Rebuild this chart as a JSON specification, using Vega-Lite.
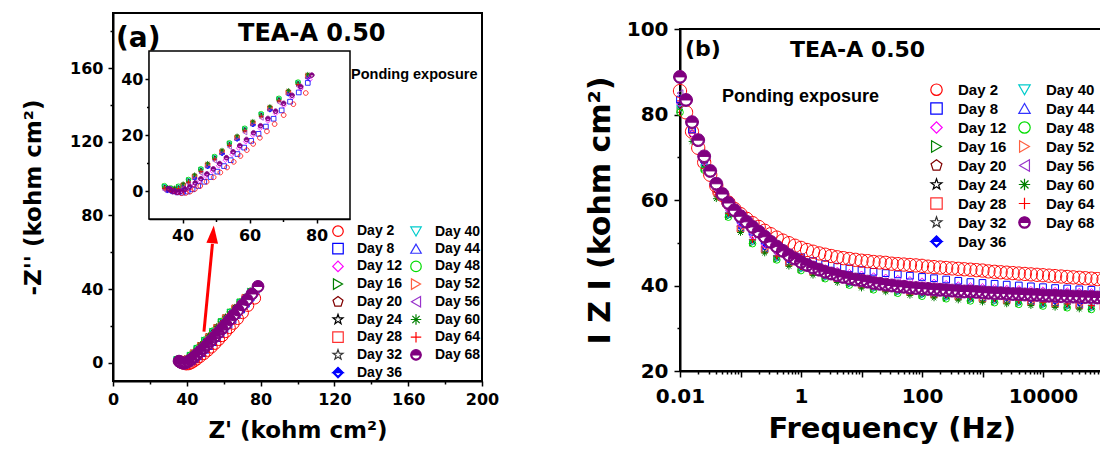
{
"$schema":"https://vega.github.io/schema/vega-lite/v6.json",
"width":1100,"height":449,"autosize":{"type":"none"},"padding":0,"background":"white",
"config":{
 "view":{"stroke":null},
 "axis":{"domainColor":"black","domainWidth":2,"tickColor":"black","tickWidth":1.5,"labelFont":"DejaVu Sans","labelFontWeight":"bold","labelColor":"black","titleFont":"DejaVu Sans","titleFontWeight":"bold","titleColor":"black","grid":false,"labelOverlap":false,"labelFlush":false},
 "legend":{"labelFont":"Liberation Sans","labelFontWeight":"bold","labelColor":"black","symbolStrokeWidth":1.2},
 "text":{"font":"DejaVu Sans","fontWeight":"bold","color":"black"}
},
"datasets":{
"one":[{"k":1}],
"bode":[
{"d":16,"f":0.01,"z":81.1},{"d":16,"f":0.0251,"z":67.4},{"d":16,"f":0.0631,"z":56.2},{"d":16,"f":0.158,"z":50.0},{"d":16,"f":0.398,"z":46.2},{"d":16,"f":1,"z":43.7},{"d":16,"f":2.51,"z":41.8},{"d":16,"f":6.31,"z":40.3},{"d":16,"f":15.8,"z":39.2},{"d":16,"f":39.8,"z":38.4},{"d":16,"f":100,"z":37.7},{"d":16,"f":251,"z":37.1},{"d":16,"f":631,"z":36.6},{"d":16,"f":1585,"z":36.2},{"d":16,"f":3981,"z":35.8},{"d":16,"f":10000,"z":35.4},{"d":16,"f":25119,"z":35.0},{"d":16,"f":63096,"z":34.6},
{"d":20,"f":0.0158,"z":75.5},{"d":20,"f":0.0398,"z":61.5},{"d":20,"f":0.1,"z":53.0},{"d":20,"f":0.251,"z":48.2},{"d":20,"f":0.631,"z":45.1},{"d":20,"f":1.58,"z":43.0},{"d":20,"f":3.98,"z":41.3},{"d":20,"f":10,"z":40.0},{"d":20,"f":25.1,"z":39.1},{"d":20,"f":63.1,"z":38.3},{"d":20,"f":158,"z":37.7},{"d":20,"f":398,"z":37.2},{"d":20,"f":1000,"z":36.7},{"d":20,"f":2512,"z":36.3},{"d":20,"f":6310,"z":35.9},{"d":20,"f":15849,"z":35.5},{"d":20,"f":39811,"z":35.1},{"d":20,"f":100000,"z":34.7},
{"d":24,"f":0.01,"z":82.6},{"d":24,"f":0.0251,"z":68.4},{"d":24,"f":0.0631,"z":56.7},{"d":24,"f":0.158,"z":50.5},{"d":24,"f":0.398,"z":46.7},{"d":24,"f":1,"z":44.2},{"d":24,"f":2.51,"z":42.3},{"d":24,"f":6.31,"z":40.8},{"d":24,"f":15.8,"z":39.7},{"d":24,"f":39.8,"z":38.9},{"d":24,"f":100,"z":38.2},{"d":24,"f":251,"z":37.6},{"d":24,"f":631,"z":37.1},{"d":24,"f":1585,"z":36.7},{"d":24,"f":3981,"z":36.3},{"d":24,"f":10000,"z":35.9},{"d":24,"f":25119,"z":35.5},{"d":24,"f":63096,"z":35.1},
{"d":28,"f":0.0158,"z":76.4},{"d":28,"f":0.0398,"z":62.1},{"d":28,"f":0.1,"z":53.3},{"d":28,"f":0.251,"z":48.5},{"d":28,"f":0.631,"z":45.4},{"d":28,"f":1.58,"z":43.3},{"d":28,"f":3.98,"z":41.6},{"d":28,"f":10,"z":40.3},{"d":28,"f":25.1,"z":39.4},{"d":28,"f":63.1,"z":38.6},{"d":28,"f":158,"z":38.0},{"d":28,"f":398,"z":37.5},{"d":28,"f":1000,"z":37.0},{"d":28,"f":2512,"z":36.6},{"d":28,"f":6310,"z":36.2},{"d":28,"f":15849,"z":35.8},{"d":28,"f":39811,"z":35.4},{"d":28,"f":100000,"z":35.0},
{"d":32,"f":0.01,"z":82.0},{"d":32,"f":0.0251,"z":68.0},{"d":32,"f":0.0631,"z":56.5},{"d":32,"f":0.158,"z":50.3},{"d":32,"f":0.398,"z":46.5},{"d":32,"f":1,"z":44.0},{"d":32,"f":2.51,"z":42.1},{"d":32,"f":6.31,"z":40.6},{"d":32,"f":15.8,"z":39.5},{"d":32,"f":39.8,"z":38.7},{"d":32,"f":100,"z":38.0},{"d":32,"f":251,"z":37.4},{"d":32,"f":631,"z":36.9},{"d":32,"f":1585,"z":36.5},{"d":32,"f":3981,"z":36.1},{"d":32,"f":10000,"z":35.7},{"d":32,"f":25119,"z":35.3},{"d":32,"f":63096,"z":34.9},
{"d":36,"f":0.0158,"z":77.9},{"d":36,"f":0.0398,"z":63.1},{"d":36,"f":0.1,"z":53.8},{"d":36,"f":0.251,"z":49.0},{"d":36,"f":0.631,"z":45.9},{"d":36,"f":1.58,"z":43.8},{"d":36,"f":3.98,"z":42.1},{"d":36,"f":10,"z":40.8},{"d":36,"f":25.1,"z":39.9},{"d":36,"f":63.1,"z":39.1},{"d":36,"f":158,"z":38.5},{"d":36,"f":398,"z":38.0},{"d":36,"f":1000,"z":37.5},{"d":36,"f":2512,"z":37.1},{"d":36,"f":6310,"z":36.7},{"d":36,"f":15849,"z":36.3},{"d":36,"f":39811,"z":35.9},{"d":36,"f":100000,"z":35.5},
{"d":40,"f":0.01,"z":81.4},{"d":40,"f":0.0251,"z":67.6},{"d":40,"f":0.0631,"z":56.3},{"d":40,"f":0.158,"z":50.1},{"d":40,"f":0.398,"z":46.3},{"d":40,"f":1,"z":43.8},{"d":40,"f":2.51,"z":41.9},{"d":40,"f":6.31,"z":40.4},{"d":40,"f":15.8,"z":39.3},{"d":40,"f":39.8,"z":38.5},{"d":40,"f":100,"z":37.8},{"d":40,"f":251,"z":37.2},{"d":40,"f":631,"z":36.7},{"d":40,"f":1585,"z":36.3},{"d":40,"f":3981,"z":35.9},{"d":40,"f":10000,"z":35.5},{"d":40,"f":25119,"z":35.1},{"d":40,"f":63096,"z":34.7},
{"d":44,"f":0.0158,"z":77.0},{"d":44,"f":0.0398,"z":62.5},{"d":44,"f":0.1,"z":53.5},{"d":44,"f":0.251,"z":48.7},{"d":44,"f":0.631,"z":45.6},{"d":44,"f":1.58,"z":43.5},{"d":44,"f":3.98,"z":41.8},{"d":44,"f":10,"z":40.5},{"d":44,"f":25.1,"z":39.6},{"d":44,"f":63.1,"z":38.8},{"d":44,"f":158,"z":38.2},{"d":44,"f":398,"z":37.7},{"d":44,"f":1000,"z":37.2},{"d":44,"f":2512,"z":36.8},{"d":44,"f":6310,"z":36.4},{"d":44,"f":15849,"z":36.0},{"d":44,"f":39811,"z":35.6},{"d":44,"f":100000,"z":35.2},
{"d":48,"f":0.01,"z":80.5},{"d":48,"f":0.0251,"z":67.0},{"d":48,"f":0.0631,"z":56.0},{"d":48,"f":0.158,"z":49.8},{"d":48,"f":0.398,"z":46.0},{"d":48,"f":1,"z":43.5},{"d":48,"f":2.51,"z":41.6},{"d":48,"f":6.31,"z":40.1},{"d":48,"f":15.8,"z":39.0},{"d":48,"f":39.8,"z":38.2},{"d":48,"f":100,"z":37.5},{"d":48,"f":251,"z":36.9},{"d":48,"f":631,"z":36.4},{"d":48,"f":1585,"z":36.0},{"d":48,"f":3981,"z":35.6},{"d":48,"f":10000,"z":35.2},{"d":48,"f":25119,"z":34.8},{"d":48,"f":63096,"z":34.4},
{"d":52,"f":0.0158,"z":76.1},{"d":52,"f":0.0398,"z":61.9},{"d":52,"f":0.1,"z":53.2},{"d":52,"f":0.251,"z":48.4},{"d":52,"f":0.631,"z":45.3},{"d":52,"f":1.58,"z":43.2},{"d":52,"f":3.98,"z":41.5},{"d":52,"f":10,"z":40.2},{"d":52,"f":25.1,"z":39.3},{"d":52,"f":63.1,"z":38.5},{"d":52,"f":158,"z":37.9},{"d":52,"f":398,"z":37.4},{"d":52,"f":1000,"z":36.9},{"d":52,"f":2512,"z":36.5},{"d":52,"f":6310,"z":36.1},{"d":52,"f":15849,"z":35.7},{"d":52,"f":39811,"z":35.3},{"d":52,"f":100000,"z":34.9},
{"d":56,"f":0.01,"z":85.0},{"d":56,"f":0.0251,"z":70.0},{"d":56,"f":0.0631,"z":57.5},{"d":56,"f":0.158,"z":51.3},{"d":56,"f":0.398,"z":47.5},{"d":56,"f":1,"z":45.0},{"d":56,"f":2.51,"z":43.1},{"d":56,"f":6.31,"z":41.6},{"d":56,"f":15.8,"z":40.5},{"d":56,"f":39.8,"z":39.7},{"d":56,"f":100,"z":39.0},{"d":56,"f":251,"z":38.4},{"d":56,"f":631,"z":37.9},{"d":56,"f":1585,"z":37.5},{"d":56,"f":3981,"z":37.1},{"d":56,"f":10000,"z":36.7},{"d":56,"f":25119,"z":36.3},{"d":56,"f":63096,"z":35.9},
{"d":60,"f":0.0158,"z":73.7},{"d":60,"f":0.0398,"z":60.3},{"d":60,"f":0.1,"z":52.4},{"d":60,"f":0.251,"z":47.6},{"d":60,"f":0.631,"z":44.5},{"d":60,"f":1.58,"z":42.4},{"d":60,"f":3.98,"z":40.7},{"d":60,"f":10,"z":39.4},{"d":60,"f":25.1,"z":38.5},{"d":60,"f":63.1,"z":37.7},{"d":60,"f":158,"z":37.1},{"d":60,"f":398,"z":36.6},{"d":60,"f":1000,"z":36.1},{"d":60,"f":2512,"z":35.7},{"d":60,"f":6310,"z":35.3},{"d":60,"f":15849,"z":34.9},{"d":60,"f":39811,"z":34.5},{"d":60,"f":100000,"z":34.1},
{"d":64,"f":0.01,"z":83.2},{"d":64,"f":0.0251,"z":68.8},{"d":64,"f":0.0631,"z":56.9},{"d":64,"f":0.158,"z":50.7},{"d":64,"f":0.398,"z":46.9},{"d":64,"f":1,"z":44.4},{"d":64,"f":2.51,"z":42.5},{"d":64,"f":6.31,"z":41.0},{"d":64,"f":15.8,"z":39.9},{"d":64,"f":39.8,"z":39.1},{"d":64,"f":100,"z":38.4},{"d":64,"f":251,"z":37.8},{"d":64,"f":631,"z":37.3},{"d":64,"f":1585,"z":36.9},{"d":64,"f":3981,"z":36.5},{"d":64,"f":10000,"z":36.1},{"d":64,"f":25119,"z":35.7},{"d":64,"f":63096,"z":35.3},
{"d":12,"f":0.01,"z":82.5},{"d":12,"f":0.0158,"z":75.5},{"d":12,"f":0.0251,"z":68.8},{"d":12,"f":0.0398,"z":62.8},{"d":12,"f":0.0631,"z":58.0},{"d":12,"f":0.1,"z":54.5},{"d":12,"f":0.158,"z":51.7},{"d":12,"f":0.251,"z":49.6},{"d":12,"f":0.398,"z":48.0},{"d":12,"f":0.631,"z":46.7},{"d":12,"f":1,"z":45.7},{"d":12,"f":1.58,"z":44.8},{"d":12,"f":2.51,"z":44.1},{"d":12,"f":3.98,"z":43.5},{"d":12,"f":6.31,"z":43.0},{"d":12,"f":10,"z":42.6},{"d":12,"f":15.8,"z":42.2},{"d":12,"f":25.1,"z":41.9},{"d":12,"f":39.8,"z":41.6},{"d":12,"f":63.1,"z":41.3},{"d":12,"f":100,"z":41.0},{"d":12,"f":158,"z":40.7},{"d":12,"f":251,"z":40.4},{"d":12,"f":398,"z":40.1},{"d":12,"f":631,"z":39.9},{"d":12,"f":1000,"z":39.7},{"d":12,"f":1585,"z":39.5},{"d":12,"f":2512,"z":39.3},{"d":12,"f":3981,"z":39.2},{"d":12,"f":6310,"z":39.0},{"d":12,"f":10000,"z":38.9},{"d":12,"f":15849,"z":38.8},{"d":12,"f":25119,"z":38.7},{"d":12,"f":39811,"z":38.6},{"d":12,"f":63096,"z":38.5},{"d":12,"f":100000,"z":38.4},
{"d":8,"f":0.01,"z":83.5},{"d":8,"f":0.0158,"z":76.5},{"d":8,"f":0.0251,"z":69.5},{"d":8,"f":0.0398,"z":63.5},{"d":8,"f":0.0631,"z":58.8},{"d":8,"f":0.1,"z":55.4},{"d":8,"f":0.158,"z":52.6},{"d":8,"f":0.251,"z":50.5},{"d":8,"f":0.398,"z":48.9},{"d":8,"f":0.631,"z":47.6},{"d":8,"f":1,"z":46.6},{"d":8,"f":1.58,"z":45.7},{"d":8,"f":2.51,"z":45.0},{"d":8,"f":3.98,"z":44.4},{"d":8,"f":6.31,"z":44.0},{"d":8,"f":10,"z":43.6},{"d":8,"f":15.8,"z":43.2},{"d":8,"f":25.1,"z":42.9},{"d":8,"f":39.8,"z":42.6},{"d":8,"f":63.1,"z":42.3},{"d":8,"f":100,"z":42.0},{"d":8,"f":158,"z":41.7},{"d":8,"f":251,"z":41.4},{"d":8,"f":398,"z":41.1},{"d":8,"f":631,"z":40.8},{"d":8,"f":1000,"z":40.6},{"d":8,"f":1585,"z":40.4},{"d":8,"f":2512,"z":40.2},{"d":8,"f":3981,"z":40.0},{"d":8,"f":6310,"z":39.8},{"d":8,"f":10000,"z":39.6},{"d":8,"f":15849,"z":39.4},{"d":8,"f":25119,"z":39.3},{"d":8,"f":39811,"z":39.1},{"d":8,"f":63096,"z":39.0},{"d":8,"f":100000,"z":38.9},
{"d":2,"f":0.01,"z":85.5},{"d":2,"f":0.0126,"z":80.5},{"d":2,"f":0.0158,"z":76.0},{"d":2,"f":0.02,"z":72.2},{"d":2,"f":0.0251,"z":68.8},{"d":2,"f":0.0316,"z":65.9},{"d":2,"f":0.0398,"z":63.3},{"d":2,"f":0.0501,"z":61.2},{"d":2,"f":0.0631,"z":59.4},{"d":2,"f":0.0794,"z":57.9},
{"d":2,"f":0.1,"z":56.7},{"d":2,"f":0.126,"z":55.6},{"d":2,"f":0.158,"z":54.6},{"d":2,"f":0.2,"z":53.7},{"d":2,"f":0.251,"z":52.8},{"d":2,"f":0.316,"z":52.0},{"d":2,"f":0.398,"z":51.2},{"d":2,"f":0.501,"z":50.5},{"d":2,"f":0.631,"z":49.9},{"d":2,"f":0.794,"z":49.3},
{"d":2,"f":1,"z":48.8},{"d":2,"f":1.26,"z":48.3},{"d":2,"f":1.58,"z":47.9},{"d":2,"f":2,"z":47.5},{"d":2,"f":2.51,"z":47.2},{"d":2,"f":3.16,"z":46.9},{"d":2,"f":3.98,"z":46.6},{"d":2,"f":5.01,"z":46.4},{"d":2,"f":6.31,"z":46.2},{"d":2,"f":7.94,"z":46.0},
{"d":2,"f":10,"z":45.8},{"d":2,"f":12.6,"z":45.7},{"d":2,"f":15.8,"z":45.5},{"d":2,"f":20,"z":45.4},{"d":2,"f":25.1,"z":45.3},{"d":2,"f":31.6,"z":45.1},{"d":2,"f":39.8,"z":45.0},{"d":2,"f":50.1,"z":44.9},{"d":2,"f":63.1,"z":44.8},{"d":2,"f":79.4,"z":44.7},
{"d":2,"f":100,"z":44.6},{"d":2,"f":126,"z":44.4},{"d":2,"f":158,"z":44.3},{"d":2,"f":200,"z":44.2},{"d":2,"f":251,"z":44.1},{"d":2,"f":316,"z":44.0},{"d":2,"f":398,"z":43.9},{"d":2,"f":501,"z":43.8},{"d":2,"f":631,"z":43.7},{"d":2,"f":794,"z":43.6},
{"d":2,"f":1000,"z":43.5},{"d":2,"f":1259,"z":43.3},{"d":2,"f":1585,"z":43.2},{"d":2,"f":1995,"z":43.1},{"d":2,"f":2512,"z":43.0},{"d":2,"f":3162,"z":42.9},{"d":2,"f":3981,"z":42.8},{"d":2,"f":5012,"z":42.7},{"d":2,"f":6310,"z":42.6},{"d":2,"f":7943,"z":42.5},
{"d":2,"f":10000,"z":42.4},{"d":2,"f":12589,"z":42.3},{"d":2,"f":15849,"z":42.2},{"d":2,"f":19953,"z":42.1},{"d":2,"f":25119,"z":42.0},{"d":2,"f":31623,"z":41.9},{"d":2,"f":39811,"z":41.8},{"d":2,"f":50119,"z":41.7},{"d":2,"f":63096,"z":41.6},{"d":2,"f":79433,"z":41.5},{"d":2,"f":100000,"z":41.4},
{"d":68,"f":0.01,"z":88.8},{"d":68,"f":0.0126,"z":83.4},{"d":68,"f":0.0158,"z":78.2},{"d":68,"f":0.02,"z":74.0},{"d":68,"f":0.0251,"z":70.2},{"d":68,"f":0.0316,"z":66.8},{"d":68,"f":0.0398,"z":63.8},{"d":68,"f":0.0501,"z":61.4},{"d":68,"f":0.0631,"z":59.3},{"d":68,"f":0.0794,"z":57.6},
{"d":68,"f":0.1,"z":56.2},{"d":68,"f":0.126,"z":54.9},{"d":68,"f":0.158,"z":53.7},{"d":68,"f":0.2,"z":52.6},{"d":68,"f":0.251,"z":51.4},{"d":68,"f":0.316,"z":50.2},{"d":68,"f":0.398,"z":49.1},{"d":68,"f":0.501,"z":48.1},{"d":68,"f":0.631,"z":47.1},{"d":68,"f":0.794,"z":46.3},
{"d":68,"f":1,"z":45.5},{"d":68,"f":1.26,"z":44.8},{"d":68,"f":1.58,"z":44.2},{"d":68,"f":2,"z":43.7},{"d":68,"f":2.51,"z":43.2},{"d":68,"f":3.16,"z":42.8},{"d":68,"f":3.98,"z":42.4},{"d":68,"f":5.01,"z":42.0},{"d":68,"f":6.31,"z":41.7},{"d":68,"f":7.94,"z":41.4},
{"d":68,"f":10,"z":41.2},{"d":68,"f":12.6,"z":40.9},{"d":68,"f":15.8,"z":40.6},{"d":68,"f":20,"z":40.4},{"d":68,"f":25.1,"z":40.2},{"d":68,"f":31.6,"z":40.0},{"d":68,"f":39.8,"z":39.8},{"d":68,"f":50.1,"z":39.7},{"d":68,"f":63.1,"z":39.5},{"d":68,"f":79.4,"z":39.4},
{"d":68,"f":100,"z":39.3},{"d":68,"f":126,"z":39.2},{"d":68,"f":158,"z":39.1},{"d":68,"f":200,"z":39.0},{"d":68,"f":251,"z":38.9},{"d":68,"f":316,"z":38.8},{"d":68,"f":398,"z":38.7},{"d":68,"f":501,"z":38.6},{"d":68,"f":631,"z":38.6},{"d":68,"f":794,"z":38.5},
{"d":68,"f":1000,"z":38.4},{"d":68,"f":1259,"z":38.3},{"d":68,"f":1585,"z":38.2},{"d":68,"f":1995,"z":38.2},{"d":68,"f":2512,"z":38.1},{"d":68,"f":3162,"z":38.0},{"d":68,"f":3981,"z":38.0},{"d":68,"f":5012,"z":37.9},{"d":68,"f":6310,"z":37.8},{"d":68,"f":7943,"z":37.8},
{"d":68,"f":10000,"z":37.7},{"d":68,"f":12589,"z":37.6},{"d":68,"f":15849,"z":37.6},{"d":68,"f":19953,"z":37.5},{"d":68,"f":25119,"z":37.5},{"d":68,"f":31623,"z":37.4},{"d":68,"f":39811,"z":37.4},{"d":68,"f":50119,"z":37.3},{"d":68,"f":63096,"z":37.3},{"d":68,"f":79433,"z":37.2},{"d":68,"f":100000,"z":37.2}
],
"nyq":[
{"d":16,"x":34.6,"y":1.7},{"d":16,"x":36.5,"y":0.9},{"d":16,"x":38.8,"y":1.5},{"d":16,"x":41.8,"y":3.9},{"d":16,"x":45.5,"y":7.7},{"d":16,"x":49.6,"y":12.1},{"d":16,"x":54.0,"y":17.0},{"d":16,"x":58.6,"y":22.2},{"d":16,"x":63.5,"y":27.4},{"d":16,"x":68.8,"y":32.9},{"d":16,"x":74.5,"y":38.7},
{"d":20,"x":35.5,"y":0.9},{"d":20,"x":37.6,"y":0.7},{"d":20,"x":40.2,"y":2.2},{"d":20,"x":43.6,"y":5.4},{"d":20,"x":47.5,"y":9.5},{"d":20,"x":51.8,"y":14.2},{"d":20,"x":56.3,"y":19.3},{"d":20,"x":61.0,"y":24.5},{"d":20,"x":66.1,"y":29.8},{"d":20,"x":71.6,"y":35.5},{"d":20,"x":77.4,"y":41.3},
{"d":24,"x":34.6,"y":1.4},{"d":24,"x":36.5,"y":0.6},{"d":24,"x":38.8,"y":1.2},{"d":24,"x":41.8,"y":3.6},{"d":24,"x":45.5,"y":7.4},{"d":24,"x":49.6,"y":11.8},{"d":24,"x":54.0,"y":16.7},{"d":24,"x":58.6,"y":21.9},{"d":24,"x":63.5,"y":27.1},{"d":24,"x":68.8,"y":32.6},{"d":24,"x":74.5,"y":38.4},
{"d":28,"x":35.5,"y":0.6},{"d":28,"x":37.6,"y":0.4},{"d":28,"x":40.2,"y":1.9},{"d":28,"x":43.6,"y":5.1},{"d":28,"x":47.5,"y":9.2},{"d":28,"x":51.8,"y":13.9},{"d":28,"x":56.3,"y":19.0},{"d":28,"x":61.0,"y":24.2},{"d":28,"x":66.1,"y":29.5},{"d":28,"x":71.6,"y":35.2},{"d":28,"x":77.4,"y":41.0},
{"d":32,"x":34.6,"y":1.2},{"d":32,"x":36.5,"y":0.4},{"d":32,"x":38.8,"y":1.0},{"d":32,"x":41.8,"y":3.4},{"d":32,"x":45.5,"y":7.2},{"d":32,"x":49.6,"y":11.6},{"d":32,"x":54.0,"y":16.5},{"d":32,"x":58.6,"y":21.7},{"d":32,"x":63.5,"y":26.9},{"d":32,"x":68.8,"y":32.4},{"d":32,"x":74.5,"y":38.2},
{"d":36,"x":35.5,"y":0.1},{"d":36,"x":37.6,"y":-0.1},{"d":36,"x":40.2,"y":1.4},{"d":36,"x":43.6,"y":4.6},{"d":36,"x":47.5,"y":8.7},{"d":36,"x":51.8,"y":13.4},{"d":36,"x":56.3,"y":18.5},{"d":36,"x":61.0,"y":23.7},{"d":36,"x":66.1,"y":29.0},{"d":36,"x":71.6,"y":34.7},{"d":36,"x":77.4,"y":40.5},
{"d":40,"x":34.6,"y":1.6},{"d":40,"x":36.5,"y":0.8},{"d":40,"x":38.8,"y":1.4},{"d":40,"x":41.8,"y":3.8},{"d":40,"x":45.5,"y":7.6},{"d":40,"x":49.6,"y":12.0},{"d":40,"x":54.0,"y":16.9},{"d":40,"x":58.6,"y":22.1},{"d":40,"x":63.5,"y":27.3},{"d":40,"x":68.8,"y":32.8},{"d":40,"x":74.5,"y":38.6},
{"d":44,"x":35.5,"y":0.4},{"d":44,"x":37.6,"y":0.2},{"d":44,"x":40.2,"y":1.7},{"d":44,"x":43.6,"y":4.9},{"d":44,"x":47.5,"y":9.0},{"d":44,"x":51.8,"y":13.7},{"d":44,"x":56.3,"y":18.8},{"d":44,"x":61.0,"y":24.0},{"d":44,"x":66.1,"y":29.3},{"d":44,"x":71.6,"y":35.0},{"d":44,"x":77.4,"y":40.8},
{"d":48,"x":34.6,"y":1.9},{"d":48,"x":36.5,"y":1.1},{"d":48,"x":38.8,"y":1.7},{"d":48,"x":41.8,"y":4.1},{"d":48,"x":45.5,"y":7.9},{"d":48,"x":49.6,"y":12.3},{"d":48,"x":54.0,"y":17.2},{"d":48,"x":58.6,"y":22.4},{"d":48,"x":63.5,"y":27.6},{"d":48,"x":68.8,"y":33.1},{"d":48,"x":74.5,"y":38.9},
{"d":52,"x":35.5,"y":0.7},{"d":52,"x":37.6,"y":0.5},{"d":52,"x":40.2,"y":2.0},{"d":52,"x":43.6,"y":5.2},{"d":52,"x":47.5,"y":9.3},{"d":52,"x":51.8,"y":14.0},{"d":52,"x":56.3,"y":19.1},{"d":52,"x":61.0,"y":24.3},{"d":52,"x":66.1,"y":29.6},{"d":52,"x":71.6,"y":35.3},{"d":52,"x":77.4,"y":41.1},
{"d":56,"x":34.6,"y":0.4},{"d":56,"x":36.5,"y":-0.4},{"d":56,"x":38.8,"y":0.2},{"d":56,"x":41.8,"y":2.6},{"d":56,"x":45.5,"y":6.4},{"d":56,"x":49.6,"y":10.8},{"d":56,"x":54.0,"y":15.7},{"d":56,"x":58.6,"y":20.9},{"d":56,"x":63.5,"y":26.1},{"d":56,"x":68.8,"y":31.6},{"d":56,"x":74.5,"y":37.4},
{"d":60,"x":35.5,"y":1.3},{"d":60,"x":37.6,"y":1.1},{"d":60,"x":40.2,"y":2.6},{"d":60,"x":43.6,"y":5.8},{"d":60,"x":47.5,"y":9.9},{"d":60,"x":51.8,"y":14.6},{"d":60,"x":56.3,"y":19.7},{"d":60,"x":61.0,"y":24.9},{"d":60,"x":66.1,"y":30.2},{"d":60,"x":71.6,"y":35.9},{"d":60,"x":77.4,"y":41.7},
{"d":64,"x":34.6,"y":1.0},{"d":64,"x":36.5,"y":0.2},{"d":64,"x":38.8,"y":0.8},{"d":64,"x":41.8,"y":3.2},{"d":64,"x":45.5,"y":7.0},{"d":64,"x":49.6,"y":11.4},{"d":64,"x":54.0,"y":16.3},{"d":64,"x":58.6,"y":21.5},{"d":64,"x":63.5,"y":26.7},{"d":64,"x":68.8,"y":32.2},{"d":64,"x":74.5,"y":38.0},
{"d":12,"x":35.9,"y":0.8},{"d":12,"x":36.9,"y":0.1},{"d":12,"x":38.0,"y":-0.4},{"d":12,"x":39.2,"y":-0.5},{"d":12,"x":40.5,"y":0.0},{"d":12,"x":41.9,"y":0.9},{"d":12,"x":43.5,"y":2.1},{"d":12,"x":45.2,"y":3.6},{"d":12,"x":47.0,"y":5.3},{"d":12,"x":48.9,"y":7.1},{"d":12,"x":50.8,"y":9.0},{"d":12,"x":52.8,"y":11.0},{"d":12,"x":54.8,"y":13.1},{"d":12,"x":56.8,"y":15.3},{"d":12,"x":58.9,"y":17.6},{"d":12,"x":61.0,"y":19.9},{"d":12,"x":63.2,"y":22.4},{"d":12,"x":65.5,"y":25.0},{"d":12,"x":67.8,"y":27.7},{"d":12,"x":70.2,"y":30.5},{"d":12,"x":72.7,"y":33.4},{"d":12,"x":75.3,"y":36.5},{"d":12,"x":78.0,"y":39.8},
{"d":8,"x":36.0,"y":0.7},{"d":8,"x":37.2,"y":0.0},{"d":8,"x":38.5,"y":-0.5},{"d":8,"x":40.0,"y":-0.6},{"d":8,"x":41.5,"y":-0.2},{"d":8,"x":43.0,"y":0.6},{"d":8,"x":44.7,"y":1.8},{"d":8,"x":46.5,"y":3.3},{"d":8,"x":48.4,"y":5.0},{"d":8,"x":50.4,"y":6.9},{"d":8,"x":52.4,"y":8.9},{"d":8,"x":54.4,"y":11.0},{"d":8,"x":56.4,"y":13.2},{"d":8,"x":58.4,"y":15.5},{"d":8,"x":60.5,"y":17.9},{"d":8,"x":62.7,"y":20.4},{"d":8,"x":64.9,"y":23.0},{"d":8,"x":67.2,"y":25.8},{"d":8,"x":69.6,"y":28.8},{"d":8,"x":72.1,"y":31.9},{"d":8,"x":74.7,"y":35.2},{"d":8,"x":77.4,"y":38.6},
{"d":2,"x":36.2,"y":0.6},{"d":2,"x":37.2,"y":0.0},{"d":2,"x":38.4,"y":-0.5},{"d":2,"x":39.7,"y":-0.8},{"d":2,"x":41.0,"y":-0.7},{"d":2,"x":42.3,"y":-0.2},{"d":2,"x":43.7,"y":0.7},{"d":2,"x":45.3,"y":1.8},{"d":2,"x":47.2,"y":3.3},{"d":2,"x":49.3,"y":4.9},{"d":2,"x":51.3,"y":6.6},{"d":2,"x":53.3,"y":8.4},{"d":2,"x":55.3,"y":10.4},{"d":2,"x":57.3,"y":12.5},{"d":2,"x":59.2,"y":14.6},{"d":2,"x":61.1,"y":16.8},{"d":2,"x":63.1,"y":19.0},{"d":2,"x":65.2,"y":21.3},{"d":2,"x":67.5,"y":23.9},{"d":2,"x":70.2,"y":27.1},{"d":2,"x":73.1,"y":31.0},{"d":2,"x":76.8,"y":35.0},
{"d":68,"x":35.8,"y":0.8},{"d":68,"x":36.6,"y":0.2},{"d":68,"x":37.5,"y":-0.2},{"d":68,"x":38.5,"y":-0.4},{"d":68,"x":39.6,"y":-0.1},{"d":68,"x":40.8,"y":0.6},{"d":68,"x":42.2,"y":1.6},{"d":68,"x":43.8,"y":2.9},{"d":68,"x":45.5,"y":4.4},{"d":68,"x":47.3,"y":6.1},{"d":68,"x":49.2,"y":7.9},{"d":68,"x":51.1,"y":9.8},{"d":68,"x":53.1,"y":11.9},{"d":68,"x":55.1,"y":14.0},{"d":68,"x":57.1,"y":16.2},{"d":68,"x":59.1,"y":18.4},{"d":68,"x":61.2,"y":20.8},{"d":68,"x":63.3,"y":23.3},{"d":68,"x":65.5,"y":25.9},{"d":68,"x":67.8,"y":28.5},{"d":68,"x":70.2,"y":31.3},{"d":68,"x":72.7,"y":34.2},{"d":68,"x":75.3,"y":37.3},{"d":68,"x":78.6,"y":41.4}
]
},
"layer":[
{
 "layer":[
  {"data":{"name":"one"},"mark":{"type":"rect","fill":"transparent","stroke":"black","strokeWidth":2},"encoding":{"x":{"datum":0,"type":"quantitative"},"x2":{"datum":200},"y":{"datum":-10,"type":"quantitative"},"y2":{"datum":190}}},
  {"data":{"name":"nyq"},
   "encoding":{
    "x":{"field":"x","type":"quantitative","scale":{"domain":[0,200],"range":[113,482],"nice":false,"zero":false},
     "axis":{"orient":"bottom","offset":-68,"values":[0,20,40,60,80,100,120,140,160,180,200],"labelExpr":"datum.value % 40 == 0 ? datum.label : ''","tickSize":{"condition":{"test":"datum.value % 40 == 0","value":5},"value":3},"labelFontSize":16,"labelPadding":5,"title":"Z' (kohm cm²)","titleFontSize":23,"titlePadding":12}},
    "y":{"field":"y","type":"quantitative","scale":{"domain":[-10,190],"range":[381,13],"nice":false,"zero":false},
     "axis":{"orient":"left","offset":-113,"values":[0,20,40,60,80,100,120,140,160,180],"labelExpr":"datum.value % 40 == 0 ? datum.label : ''","tickSize":{"condition":{"test":"datum.value % 40 == 0","value":5},"value":3},"labelFontSize":16,"labelPadding":5,"title":"-Z'' (kohm cm²)","titleFontSize":23,"titlePadding":24}},
    "shape":{"field":"d","type":"nominal","scale":{"domain":[2,8,12,16,20,24,28,32,36,40,44,48,52,56,60,64,68],"range":["M-1,0A1,1,0,1,1,1,0A1,1,0,1,1,-1,0Z","square","diamond","triangle-right","M0,-1L0.951,-0.309L0.588,0.809L-0.588,0.809L-0.951,-0.309Z","M0,-1L0.235,-0.324L0.951,-0.309L0.38,0.124L0.588,0.809L0,0.4L-0.588,0.809L-0.38,0.124L-0.951,-0.309L-0.235,-0.324Z","square","M0,-1L0.235,-0.324L0.951,-0.309L0.38,0.124L0.588,0.809L0,0.4L-0.588,0.809L-0.38,0.124L-0.951,-0.309L-0.235,-0.324Z","M-1,0L0,-1L1,0ZM-1,0L0,1L1,0L0.75,0L0,0.75L-0.75,0Z","triangle-down","triangle-up","circle","triangle-right","triangle-left","M0,-1L0,1M-1,0L1,0M-0.7,-0.7L0.7,0.7M-0.7,0.7L0.7,-0.7","M0,-1L0,1M-1,0L1,0","M-1,0A1,1,0,0,1,1,0ZM1,0A1,1,0,0,1,-1,0L-0.8,0A0.8,0.8,0,0,0,0.8,0Z"]},
     "legend":{"title":null,"orient":"none","legendX":331,"legendY":224,"columns":2,"labelFontSize":14,"labelOffset":12,"columnPadding":5,"rowPadding":1.7,"symbolSize":110,"labelExpr":"'Day ' + datum.label"}},
    "stroke":{"field":"d","type":"nominal","scale":{"domain":[2,8,12,16,20,24,28,32,36,40,44,48,52,56,60,64,68],"range":["#FF0000","#0000FF","#FF00FF","#008000","#800000","#000000","#FF3030","#333333","#0000FF","#00CCCC","#3333FF","#00DD00","#FF6040","#9933CC","#008000","#FF0000","#800080"]}},
    "fill":{"field":"d","type":"nominal","scale":{"domain":[2,8,12,16,20,24,28,32,36,40,44,48,52,56,60,64,68],"range":["transparent","transparent","transparent","transparent","transparent","transparent","transparent","transparent","#0000FF","transparent","transparent","transparent","transparent","transparent","transparent","transparent","#800080"]}}
   },
   "layer":[
    {"transform":[{"filter":"datum.d != 2 && datum.d != 68"}],"mark":{"type":"point","filled":true,"size":40,"strokeWidth":1,"opacity":1}},
    {"transform":[{"filter":"datum.d == 2"}],"mark":{"type":"point","filled":true,"size":140,"strokeWidth":1,"opacity":1}},
    {"transform":[{"filter":"datum.d == 68"}],"mark":{"type":"point","filled":true,"size":140,"opacity":1},"encoding":{"shape":{"value":"circle"},"fill":{"value":"white"},"stroke":{"value":"white"},"strokeWidth":{"value":0}}},
    {"transform":[{"filter":"datum.d == 68"}],"mark":{"type":"point","filled":true,"size":140,"strokeWidth":1,"opacity":1}}
   ]},
  {"data":{"name":"one"},"mark":{"type":"rule","color":"#FF0000","strokeWidth":3},"encoding":{"x":{"datum":49.3,"type":"quantitative"},"y":{"datum":16.8,"type":"quantitative"},"x2":{"datum":53.9},"y2":{"datum":64.5}}},
  {"data":{"name":"one"},"mark":{"type":"point","shape":"M0,-1L0.65,1L-0.65,1Z","size":324,"angle":5,"filled":true,"color":"#FF0000","opacity":1},"encoding":{"x":{"datum":54.2,"type":"quantitative"},"y":{"datum":69.7,"type":"quantitative"}}},
  {"data":{"name":"one"},"mark":{"type":"text","text":"(a)","align":"left","baseline":"alphabetic","fontSize":28},"encoding":{"x":{"datum":1.6,"type":"quantitative"},"y":{"datum":171.4,"type":"quantitative"}}},
  {"data":{"name":"one"},"mark":{"type":"text","text":"TEA-A 0.50","align":"left","baseline":"alphabetic","fontSize":24},"encoding":{"x":{"datum":67.8,"type":"quantitative"},"y":{"datum":174.6,"type":"quantitative"}}},
  {"data":{"name":"one"},"mark":{"type":"text","text":"Ponding exposure","align":"left","baseline":"alphabetic","fontSize":14.5,"font":"Liberation Sans"},"encoding":{"x":{"datum":129,"type":"quantitative"},"y":{"datum":154,"type":"quantitative"}}}
 ]
},
{
 "layer":[
  {"data":{"name":"one"},"mark":{"type":"rect","fill":"white","stroke":"black","strokeWidth":1.5},"encoding":{"x":{"datum":30,"type":"quantitative"},"x2":{"datum":90},"y":{"datum":-10,"type":"quantitative"},"y2":{"datum":50}}},
  {"data":{"name":"nyq"},"mark":{"type":"point","filled":true,"size":22,"strokeWidth":0.8,"opacity":1},
   "encoding":{
    "x":{"field":"x","type":"quantitative","scale":{"domain":[30,90],"range":[149,350],"nice":false,"zero":false},
     "axis":{"orient":"bottom","offset":-230,"values":[40,50,60,70,80],"labelExpr":"datum.value % 20 == 0 ? datum.label : ''","tickSize":{"condition":{"test":"datum.value % 20 == 0","value":4},"value":2.5},"labelFontSize":16,"labelPadding":4,"title":null,"domainWidth":1.5}},
    "y":{"field":"y","type":"quantitative","scale":{"domain":[-10,50],"range":[219,51],"nice":false,"zero":false},
     "axis":{"orient":"left","offset":-149,"values":[0,10,20,30,40],"labelExpr":"datum.value % 20 == 0 ? datum.label : ''","tickSize":{"condition":{"test":"datum.value % 20 == 0","value":4},"value":2.5},"labelFontSize":16,"labelPadding":2,"title":null,"domainWidth":1.5}},
    "shape":{"field":"d","type":"nominal","legend":null,"scale":{"domain":[2,8,12,16,20,24,28,32,36,40,44,48,52,56,60,64,68],"range":["M-1,0A1,1,0,1,1,1,0A1,1,0,1,1,-1,0Z","square","diamond","triangle-right","M0,-1L0.951,-0.309L0.588,0.809L-0.588,0.809L-0.951,-0.309Z","M0,-1L0.235,-0.324L0.951,-0.309L0.38,0.124L0.588,0.809L0,0.4L-0.588,0.809L-0.38,0.124L-0.951,-0.309L-0.235,-0.324Z","square","M0,-1L0.235,-0.324L0.951,-0.309L0.38,0.124L0.588,0.809L0,0.4L-0.588,0.809L-0.38,0.124L-0.951,-0.309L-0.235,-0.324Z","M-1,0L0,-1L1,0ZM-1,0L0,1L1,0L0.75,0L0,0.75L-0.75,0Z","triangle-down","triangle-up","circle","triangle-right","triangle-left","M0,-1L0,1M-1,0L1,0M-0.7,-0.7L0.7,0.7M-0.7,0.7L0.7,-0.7","M0,-1L0,1M-1,0L1,0","M-1,0A1,1,0,0,1,1,0ZM1,0A1,1,0,0,1,-1,0L-0.8,0A0.8,0.8,0,0,0,0.8,0Z"]}},
    "stroke":{"field":"d","type":"nominal","legend":null,"scale":{"domain":[2,8,12,16,20,24,28,32,36,40,44,48,52,56,60,64,68],"range":["#FF0000","#0000FF","#FF00FF","#008000","#800000","#000000","#FF3030","#333333","#0000FF","#00CCCC","#3333FF","#00DD00","#FF6040","#9933CC","#008000","#FF0000","#800080"]}},
    "fill":{"field":"d","type":"nominal","legend":null,"scale":{"domain":[2,8,12,16,20,24,28,32,36,40,44,48,52,56,60,64,68],"range":["transparent","transparent","transparent","transparent","transparent","transparent","transparent","transparent","#0000FF","transparent","transparent","transparent","transparent","transparent","transparent","transparent","#800080"]}}
   }}
 ]
},
{
 "layer":[
  {"data":{"name":"one"},"mark":{"type":"rect","fill":"transparent","stroke":"black","strokeWidth":2},"encoding":{"x":{"datum":0.01,"type":"quantitative","scale":{"type":"log"}},"x2":{"datum":100000},"y":{"datum":20,"type":"quantitative"},"y2":{"datum":100}}},
  {"data":{"name":"bode"},
   "encoding":{
    "x":{"field":"f","type":"quantitative","scale":{"type":"log","domain":[0.01,100000],"range":[680,1103.5],"nice":false},
     "axis":{"orient":"bottom","offset":-78,"values":[0.01,0.02,0.03,0.04,0.05,0.06,0.07,0.08,0.09,0.1,0.2,0.3,0.4,0.5,0.6,0.7,0.8,0.9,1,2,3,4,5,6,7,8,9,10,20,30,40,50,60,70,80,90,100,200,300,400,500,600,700,800,900,1000,2000,3000,4000,5000,6000,7000,8000,9000,10000,20000,30000,40000,50000,60000,70000,80000,90000,100000],"labelExpr":"datum.value == 0.01 ? '0.01' : datum.value == 1 ? '1' : datum.value == 100 ? '100' : datum.value == 10000 ? '10000' : ''","tickSize":{"condition":{"test":"indexof([0.01,0.1,1,10,100,1000,10000,100000], datum.value) >= 0","value":6},"value":3},"labelFontSize":20,"labelPadding":9,"title":"Frequency (Hz)","titleFontSize":29,"titlePadding":8}},
    "y":{"field":"z","type":"quantitative","scale":{"domain":[20,100],"range":[371,29],"nice":false,"zero":false},
     "axis":{"orient":"left","offset":-680,"values":[20,30,40,50,60,70,80,90,100],"labelExpr":"datum.value % 20 == 0 ? datum.label : ''","tickSize":{"condition":{"test":"datum.value % 20 == 0","value":6},"value":3},"labelFontSize":20,"labelPadding":6,"title":"I Z I (kohm cm²)","titleFontSize":30,"titlePadding":11,"titleY":210}},
    "shape":{"field":"d","type":"nominal","scale":{"domain":[2,8,12,16,20,24,28,32,36,40,44,48,52,56,60,64,68],"range":["M-1,0A1,1,0,1,1,1,0A1,1,0,1,1,-1,0Z","square","diamond","triangle-right","M0,-1L0.951,-0.309L0.588,0.809L-0.588,0.809L-0.951,-0.309Z","M0,-1L0.235,-0.324L0.951,-0.309L0.38,0.124L0.588,0.809L0,0.4L-0.588,0.809L-0.38,0.124L-0.951,-0.309L-0.235,-0.324Z","square","M0,-1L0.235,-0.324L0.951,-0.309L0.38,0.124L0.588,0.809L0,0.4L-0.588,0.809L-0.38,0.124L-0.951,-0.309L-0.235,-0.324Z","M-1,0L0,-1L1,0ZM-1,0L0,1L1,0L0.75,0L0,0.75L-0.75,0Z","triangle-down","triangle-up","circle","triangle-right","triangle-left","M0,-1L0,1M-1,0L1,0M-0.7,-0.7L0.7,0.7M-0.7,0.7L0.7,-0.7","M0,-1L0,1M-1,0L1,0","M-1,0A1,1,0,0,1,1,0ZM1,0A1,1,0,0,1,-1,0L-0.8,0A0.8,0.8,0,0,0,0.8,0Z"]},
     "legend":{"title":null,"orient":"none","legendX":929,"legendY":82,"columns":2,"labelFontSize":15,"labelOffset":14,"columnPadding":9,"rowPadding":2,"symbolSize":130,"labelExpr":"'Day ' + datum.label"}},
    "stroke":{"field":"d","type":"nominal","scale":{"domain":[2,8,12,16,20,24,28,32,36,40,44,48,52,56,60,64,68],"range":["#FF0000","#0000FF","#FF00FF","#008000","#800000","#000000","#FF3030","#333333","#0000FF","#00CCCC","#3333FF","#00DD00","#FF6040","#9933CC","#008000","#FF0000","#800080"]}},
    "fill":{"field":"d","type":"nominal","scale":{"domain":[2,8,12,16,20,24,28,32,36,40,44,48,52,56,60,64,68],"range":["transparent","transparent","transparent","transparent","transparent","transparent","transparent","transparent","#0000FF","transparent","transparent","transparent","transparent","transparent","transparent","transparent","#800080"]}}
   },
   "layer":[
    {"transform":[{"filter":"datum.d != 2 && datum.d != 68"}],"mark":{"type":"point","filled":true,"size":45,"strokeWidth":1,"opacity":1}},
    {"transform":[{"filter":"datum.d == 2"}],"mark":{"type":"point","filled":true,"size":175,"strokeWidth":1,"opacity":1}},
    {"transform":[{"filter":"datum.d == 68"}],"mark":{"type":"point","filled":true,"size":165,"opacity":1},"encoding":{"shape":{"value":"circle"},"fill":{"value":"white"},"stroke":{"value":"white"},"strokeWidth":{"value":0}}},
    {"transform":[{"filter":"datum.d == 68"}],"mark":{"type":"point","filled":true,"size":165,"strokeWidth":1,"opacity":1}}
   ]},
  {"data":{"name":"one"},"mark":{"type":"text","text":"(b)","align":"left","baseline":"alphabetic","fontSize":22},"encoding":{"x":{"datum":0.0121,"type":"quantitative","scale":{"type":"log"}},"y":{"datum":93.7,"type":"quantitative"}}},
  {"data":{"name":"one"},"mark":{"type":"text","text":"TEA-A 0.50","align":"left","baseline":"alphabetic","fontSize":22},"encoding":{"x":{"datum":0.658,"type":"quantitative","scale":{"type":"log"}},"y":{"datum":93.5,"type":"quantitative"}}},
  {"data":{"name":"one"},"mark":{"type":"text","text":"Ponding exposure","align":"left","baseline":"alphabetic","fontSize":18,"font":"Liberation Sans"},"encoding":{"x":{"datum":0.0494,"type":"quantitative","scale":{"type":"log"}},"y":{"datum":82.9,"type":"quantitative"}}}
 ]
}
],
"resolve":{"scale":{"x":"independent","y":"independent"},"legend":{"shape":"independent","stroke":"independent","fill":"independent"}}
}
